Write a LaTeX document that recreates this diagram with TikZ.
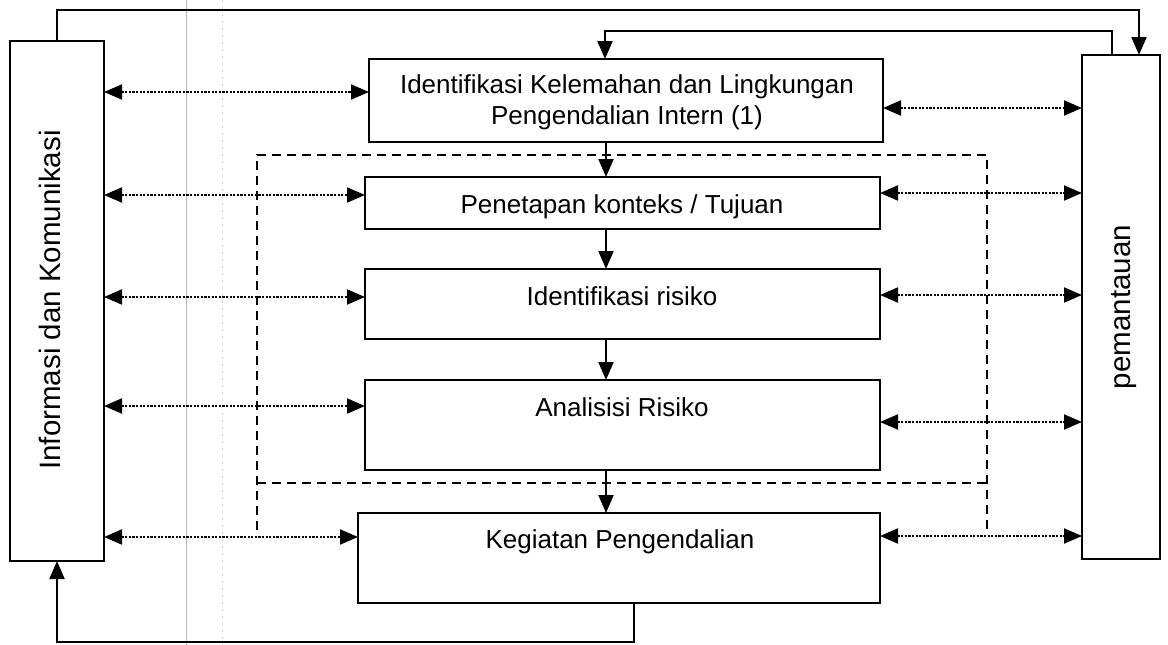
\documentclass[tikz,border=0pt]{standalone}
\usepackage{fontspec}
\setmainfont{Liberation Sans}
\usetikzlibrary{arrows.meta}
\begin{document}
\begin{tikzpicture}[x=1pt,y=-1pt,
  box/.style={draw=black, line width=2pt, fill=white, inner sep=0pt, outer sep=0pt},
  midtext/.style={font=\fontsize{26}{31}\selectfont, inner sep=0pt, anchor=base, align=center},
  sidetext/.style={font=\fontsize{29.5}{34}\selectfont, inner sep=0pt, anchor=base, rotate=90},
  flow/.style={line width=2pt, -{Triangle[length=18pt,width=15pt]}},
  dotarrow/.style={line width=2pt, dash pattern=on 2.2pt off 1.4pt,
     {Triangle[length=18pt,width=15pt]}-{Triangle[length=18pt,width=15pt]}},
  groupline/.style={line width=1.8pt, dash pattern=on 9pt off 6pt},
  scanline/.style={draw=gray!55, line width=0.8pt}
]
\useasboundingbox (0,0) rectangle (1168,645);
\fill[white] (0,0) rectangle (1168,645);

% faint scan lines
\draw[scanline] (186,0) -- (186,645);
\draw[draw=gray!35, line width=0.8pt, dash pattern=on 2pt off 5pt] (222,0) -- (222,645);

% level coordinates
\coordinate (l1) at (0,92);
\coordinate (l2) at (0,195);
\coordinate (l3) at (0,297);
\coordinate (l4) at (0,406);
\coordinate (l5) at (0,537);
\coordinate (r1) at (0,108);
\coordinate (r2) at (0,193);
\coordinate (r3) at (0,295);
\coordinate (r4) at (0,422);
\coordinate (r5) at (0,536);
\coordinate (ax) at (606,0);
\coordinate (topA) at (0,10);
\coordinate (topB) at (0,31);
\coordinate (botA) at (0,642);
\coordinate (xL) at (57,0);
\coordinate (xR1) at (1139,0);
\coordinate (xR2) at (1112,0);
\coordinate (xT2) at (605,0);
\coordinate (xB) at (634,0);

% dashed grouping
\coordinate (g1) at (257,530);
\coordinate (g2) at (257,155);
\coordinate (g3) at (987,155);
\coordinate (g4) at (987,530);
\coordinate (h1) at (257,483);
\coordinate (h2) at (987,483);
\draw[groupline] (g1) -- (g2) -- (g3) -- (g4);
\draw[groupline] (h1) -- (h2);

% side boxes
\node[box, minimum width=94pt, minimum height=520pt] (L) at (57,301) {};
\node[box, minimum width=78pt, minimum height=504pt] (R) at (1121,307) {};
\node[sidetext] (Lt) at (60,300) {Informasi dan Komunikasi};
\node[sidetext] (Rt) at (1130,307) {pemantauan};

% middle boxes
\node[box, minimum width=514pt, minimum height=83pt] (B1) at (626,100.5) {};
\node[box, minimum width=515pt, minimum height=52pt] (B2) at (622.5,203) {};
\node[box, minimum width=515pt, minimum height=70pt] (B3) at (622.5,304) {};
\node[box, minimum width=515pt, minimum height=90pt] (B4) at (622.5,425) {};
\node[box, minimum width=522pt, minimum height=90pt] (B5) at (619,558) {};

\node[midtext] (T1) at (627,124) {Identifikasi Kelemahan dan Lingkungan\\Pengendalian Intern (1)};
\node[midtext] (T2) at (622,213) {Penetapan konteks / Tujuan};
\node[midtext] (T3) at (622,305) {Identifikasi risiko};
\node[midtext] (T4) at (622,416) {Analisisi Risiko};
\node[midtext] (T5) at (620,548) {Kegiatan Pengendalian};

% flow arrows between middle boxes
\draw[flow] (B1.south -| ax) -- (B2.north -| ax);
\draw[flow] (B2.south -| ax) -- (B3.north -| ax);
\draw[flow] (B3.south -| ax) -- (B4.north -| ax);
\draw[flow] (B4.south -| ax) -- (B5.north -| ax);

% outer feedback lines
\draw[flow] (L.north -| xL) -- (xL |- topA) -- (xR1 |- topA) -- (R.north -| xR1);
\draw[flow] (R.north -| xR2) -- (xR2 |- topB) -- (xT2 |- topB) -- (B1.north -| xT2);
\draw[flow] (B5.south -| xB) -- (xB |- botA) -- (xL |- botA) -- (L.south -| xL);

% dotted two-way links, left side
\draw[dotarrow] (L.east |- l1) -- (B1.west |- l1);
\draw[dotarrow] (L.east |- l2) -- (B2.west |- l2);
\draw[dotarrow] (L.east |- l3) -- (B3.west |- l3);
\draw[dotarrow] (L.east |- l4) -- (B4.west |- l4);
\draw[dotarrow] (L.east |- l5) -- (B5.west |- l5);
% right side
\draw[dotarrow] (B1.east |- r1) -- (R.west |- r1);
\draw[dotarrow] (B2.east |- r2) -- (R.west |- r2);
\draw[dotarrow] (B3.east |- r3) -- (R.west |- r3);
\draw[dotarrow] (B4.east |- r4) -- (R.west |- r4);
\draw[dotarrow] (B5.east |- r5) -- (R.west |- r5);
\end{tikzpicture}
\end{document}
